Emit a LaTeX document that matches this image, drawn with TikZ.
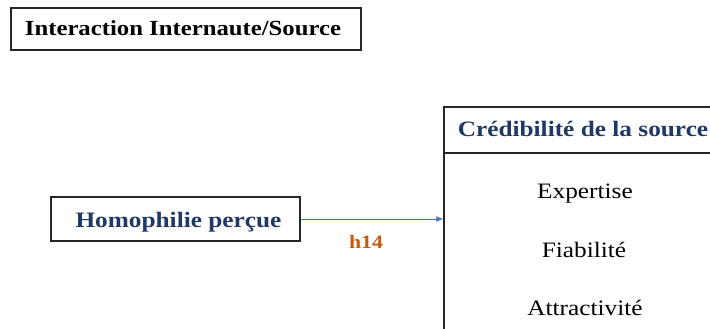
\documentclass[tikz,border=0pt]{standalone}
\usepackage{fontspec}
\setmainfont{Liberation Serif}[FakeStretch=1.15]
\usetikzlibrary{arrows.meta}
\definecolor{navy}{HTML}{1F3864}
\definecolor{burnt}{HTML}{C55A11}
\definecolor{linkblue}{HTML}{4472C4}
\tikzset{
  box/.style={draw=black!85, line width=1.3pt, inner sep=0pt},
  lbl/.style={anchor=base, inner sep=0pt},
  big/.style={font=\fontsize{22}{26}\selectfont},
}
\begin{document}
\begin{tikzpicture}[x=1pt,y=-1pt]
\clip (0,0) rectangle (710,329);
% title box
\node[box, minimum width=350pt, minimum height=42pt] (titlebox) at (186,29) {};
\node[lbl, font=\fontsize{21.5}{26}\selectfont\bfseries] (title) at (183,36) {Interaction Internaute/Source};
% homophilie box
\node[box, minimum width=249pt, minimum height=44pt] (homo) at (175.5,219) {};
\node[lbl, big, font=\fontsize{22}{26}\selectfont\bfseries, text=navy] (homot) at (178.5,227.5) {Homophilie perçue};
% credibilite box
\node[box, minimum width=272pt, minimum height=228pt] (cred) at (580,221) {};
\coordinate (divl) at (444,153);
\coordinate (divr) at (716,153);
\draw[black!85, line width=1.3pt] (divl) -- (divr);
\node[lbl, font=\fontsize{22}{26}\selectfont\bfseries, text=navy] (credt) at (583,136) {Crédibilité de la source};
\node[lbl, big] (exp) at (585,198) {Expertise};
\node[lbl, big] (fia) at (584,257) {Fiabilité};
\node[lbl, big] (att) at (585,315) {Attractivité};
% arrow
\draw[linkblue, line width=1pt, -{Latex[length=7pt,width=6pt]}] (homo.east) -- (cred.west |- homo.east);
\node[lbl, font=\fontsize{19}{22}\selectfont\bfseries, text=burnt] (h14) at (366,248) {h14};
\end{tikzpicture}
\end{document}
